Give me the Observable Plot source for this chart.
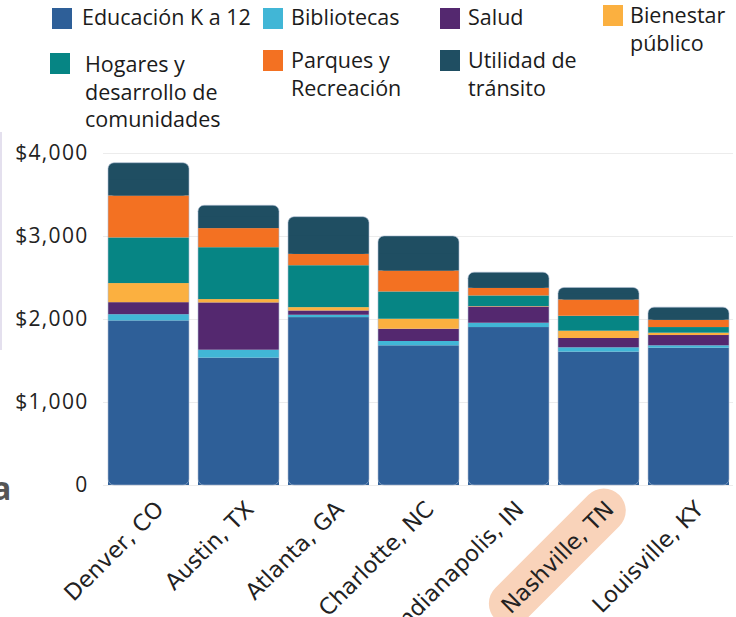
<!DOCTYPE html>
<html>
<head>
<meta charset="utf-8">
<script src="https://cdn.jsdelivr.net/npm/d3@7"></script>
<script src="https://cdn.jsdelivr.net/npm/@observablehq/plot@0.6"></script>
<style>
  html, body { margin: 0; padding: 0; background: #fff; }
  #wrap { position: relative; width: 736px; height: 617px; overflow: hidden; }
  #legend { position: relative; width: 736px; height: 140px; font-family: "Open Sans", sans-serif; font-size: 21.5px; font-weight: 400; color: #1b1b1b; }
  .sw { position: absolute; width: 20px; height: 21px; }
  .lt { position: absolute; line-height: 27.5px; white-space: nowrap; }
  #edge { position: absolute; left: 0; top: 132px; width: 2px; height: 218px; background: #e4e0ee; }
  #frag { position: absolute; left: -8px; top: 466px; font-family: "Open Sans", sans-serif; font-weight: 700; font-size: 32px; color: #555; }
</style>
</head>
<body>
<div id="wrap">
  <div id="legend"></div>
  <div id="chart"></div>
  <div id="edge"></div>
  <div id="frag">a</div>
</div>
<script>
// ---- data ----
const cities = ["Denver, CO", "Austin, TX", "Atlanta, GA", "Charlotte, NC", "Indianapolis, IN", "Nashville, TN", "Louisville, KY"];
const categories = ["Educación K a 12", "Bibliotecas", "Salud", "Bienestar público", "Hogares y desarrollo de comunidades", "Parques y Recreación", "Utilidad de tránsito"];
const colors = ["#2e5f98", "#41b6d6", "#54286f", "#fbb040", "#068584", "#f37122", "#1f4e62"];
const educacion  = [1983, 1535, 2023, 1683, 1903, 1607, 1655];
const bibliotecas = [75, 95, 28, 52, 52, 52, 28];
const salud      = [145, 570, 52, 148, 196, 112, 124];
const bienestar  = [230, 40, 40, 120, 5, 88, 28];
const hogares    = [550, 625, 505, 329, 128, 180, 68];
const parques    = [505, 230, 137, 252, 92, 197, 89];
const transito   = [395, 275, 448, 417, 188, 144, 151];
const yTicks = [0, 1000, 2000, 3000, 4000];
const highlightCity = "Nashville, TN";

const seriesValues = [educacion, bibliotecas, salud, bienestar, hogares, parques, transito];

// ---- legend (HTML, above the SVG) ----
const legendItems = [
  {cat: 0, sx: 52, sy: 8,  tx: 82,  ty: 3,  lines: ["Educación K a 12"]},
  {cat: 1, sx: 263, sy: 8, tx: 291, ty: 3,  lines: ["Bibliotecas"]},
  {cat: 2, sx: 440, sy: 8, tx: 468, ty: 3,  lines: ["Salud"]},
  {cat: 3, sx: 603, sy: 5, tx: 630, ty: 1,  lines: ["Bienestar", "público"]},
  {cat: 4, sx: 50, sy: 53, tx: 85,  ty: 50, lines: ["Hogares y", "desarrollo de", "comunidades"]},
  {cat: 5, sx: 263, sy: 50, tx: 291, ty: 46, lines: ["Parques y", "Recreación"]},
  {cat: 6, sx: 440, sy: 50, tx: 468, ty: 46, lines: ["Utilidad de", "tránsito"]}
];
const legend = document.getElementById("legend");
for (const it of legendItems) {
  const sw = document.createElement("div");
  sw.className = "sw";
  sw.style.left = it.sx + "px"; sw.style.top = it.sy + "px";
  sw.style.background = colors[it.cat];
  legend.appendChild(sw);
  const t = document.createElement("div");
  t.className = "lt";
  t.style.left = it.tx + "px"; t.style.top = it.ty + "px";
  t.innerHTML = it.lines.join("<br>");
  legend.appendChild(t);
}

// ---- tidy rows with stacked extents ----
const rows = [];
cities.forEach((city, i) => {
  let cum = 0;
  categories.forEach((cat, j) => {
    const v = seriesValues[j][i];
    rows.push({city, category: cat, value: v, y1: cum, y2: cum + v});
    cum += v;
  });
});
const topCat = categories[categories.length - 1];
const lowerRows = rows.filter(d => d.category !== topCat);
const topRows = rows.filter(d => d.category === topCat);
const totals = cities.map((city, i) => ({city, total: d3.sum(seriesValues, s => s[i])}));

const fmt = d => d === 0 ? "0" : "$" + d3.format(",")(d);

const plot = Plot.plot({
  width: 736,
  height: 477,
  marginTop: 13,
  marginBottom: 132,
  marginLeft: 103,
  marginRight: 3,
  style: {fontFamily: "Open Sans, sans-serif", fontSize: "21px", color: "#222", background: "transparent"},
  x: {domain: cities, paddingInner: 0.1, paddingOuter: 0.05, axis: null, label: null},
  y: {domain: [0, 4000], axis: null, label: null},
  color: {domain: categories, range: colors},
  marks: [
    Plot.gridY(yTicks, {stroke: "#ececec", strokeOpacity: 1}),
    Plot.barY(lowerRows, {x: "city", y1: "y1", y2: "y2", fill: "category"}),
    Plot.barY(topRows, {x: "city", y1: "y1", y2: "y2", fill: "category", rx: 6}),
    Plot.barY(topRows, {x: "city", y1: "y1", y2: d => (d.y1 + d.y2) / 2, fill: "category"}),
    Plot.barY(totals, {x: "city", y1: 0, y2: "total", fill: "none", stroke: "#aebdd2", strokeOpacity: 0.6, strokeWidth: 1, rx: 6}),
    Plot.axisY(yTicks, {tickSize: 0, tickPadding: 15, tickFormat: fmt, fontSize: 21, fill: "#222", label: null}),
    Plot.axisX({tickRotate: -45, tickSize: 0, tickPadding: 20, dx: 11, fontSize: 22.5, fontFamily: "DejaVu Sans, sans-serif", fill: "#222", label: null})
  ]
});
document.getElementById("chart").appendChild(plot);

// y labels letter spacing to mimic wider digits
plot.querySelectorAll('[aria-label="y-axis tick label"] text').forEach(t => t.setAttribute("letter-spacing", "1.3"));

// highlight pill behind the Nashville label
plot.querySelectorAll('[aria-label="x-axis tick label"] text').forEach(t => {
  if (t.textContent.trim() === highlightCity) {
    const bb = t.getBBox();
    const padX = 14, padY = 9;
    const r = document.createElementNS("http://www.w3.org/2000/svg", "rect");
    r.setAttribute("x", bb.x - padX);
    r.setAttribute("y", bb.y - padY);
    r.setAttribute("width", bb.width + 2 * padX);
    r.setAttribute("height", bb.height + 2 * padY);
    const h = bb.height + 2 * padY;
    r.setAttribute("rx", h / 2);
    r.setAttribute("fill", "#f9d3ba");
    if (t.getAttribute("transform")) r.setAttribute("transform", t.getAttribute("transform"));
    t.parentNode.insertBefore(r, t);
  }
});
</script>
</body>
</html>
